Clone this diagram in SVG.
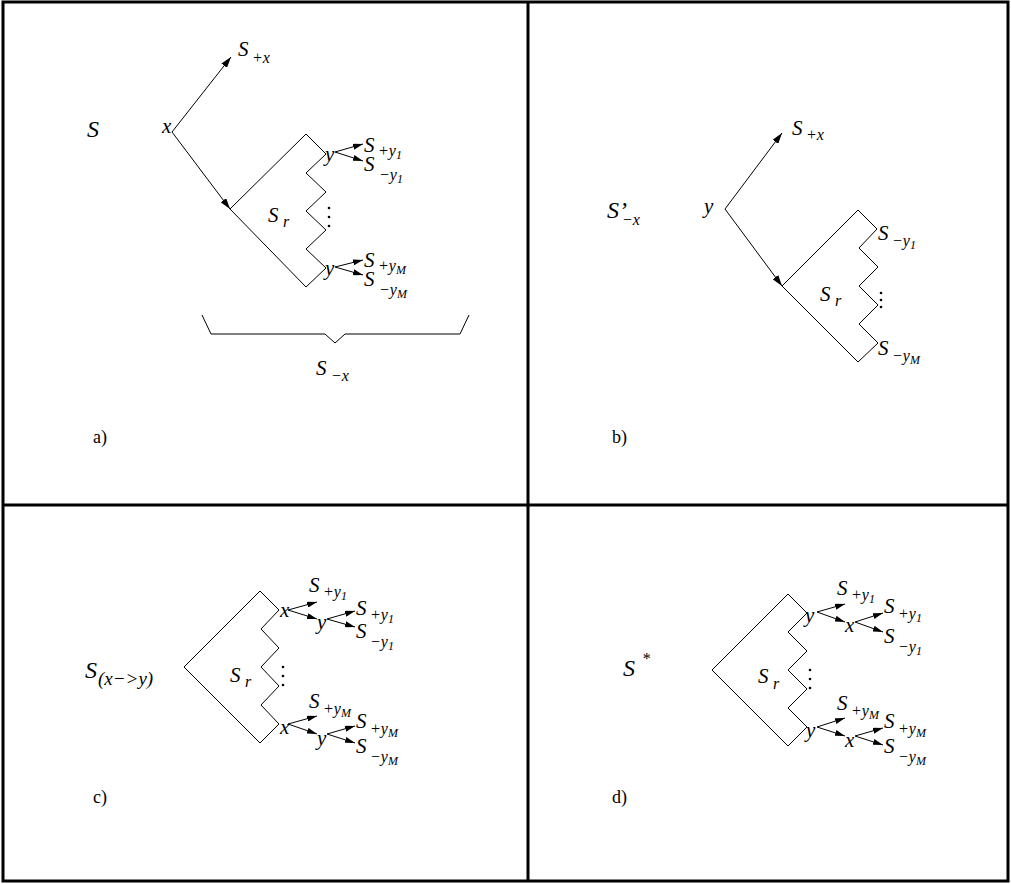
<svg xmlns="http://www.w3.org/2000/svg" width="1011" height="884" viewBox="0 0 1011 884" font-family="'Liberation Serif', 'Times New Roman', 'DejaVu Serif', serif">
<defs>
<marker id="ah" markerUnits="userSpaceOnUse" markerWidth="11" markerHeight="7" refX="11" refY="3.5" orient="auto"><path d="M0,0 L11,3.5 L0,7 z" fill="#000"/></marker>
<marker id="as" markerUnits="userSpaceOnUse" markerWidth="10" markerHeight="6" refX="10" refY="3" orient="auto"><path d="M0,0 L10,3 L0,6 z" fill="#000"/></marker>
</defs>
<style>
text{font-family:'Liberation Serif','Times New Roman','DejaVu Serif',serif;font-style:italic;fill:#000}
.m{font-size:21px}
.b{font-size:24px}
.u{font-size:16px}
.ss{font-size:12px}
.lab{font-style:normal;font-size:18px}
.ln{fill:none;stroke:#000;stroke-width:1}
.big{stroke:#000;stroke-width:1;fill:none;marker-end:url(#ah)}
.sm{stroke:#000;stroke-width:1;fill:none;marker-end:url(#as)}
.frame{fill:none;stroke:#000;stroke-width:3}
</style>
<rect class="frame" x="3" y="2" width="1005" height="879"/>
<line class="frame" x1="528" y1="2" x2="528" y2="881"/>
<line class="frame" x1="3" y1="505" x2="1008" y2="505"/>

<g id="connectors">
<line class="big" x1="172" y1="132" x2="231" y2="57"/>
<line class="big" x1="172" y1="132" x2="230" y2="209"/>
<line class="sm" x1="335" y1="152" x2="363" y2="144"/>
<line class="sm" x1="335" y1="152" x2="363" y2="161"/>
<line class="sm" x1="335" y1="267" x2="363" y2="260"/>
<line class="sm" x1="335" y1="267" x2="363" y2="275"/>
<line class="big" x1="725" y1="209" x2="782" y2="133"/>
<line class="big" x1="725" y1="209" x2="782" y2="286"/>
<line class="sm" x1="288" y1="610" x2="317" y2="602"/>
<line class="sm" x1="288" y1="610" x2="317" y2="619"/>
<line class="sm" x1="327" y1="619" x2="355" y2="611"/>
<line class="sm" x1="327" y1="619" x2="355" y2="627"/>
<line class="sm" x1="288" y1="724" x2="317" y2="716"/>
<line class="sm" x1="288" y1="724" x2="317" y2="734"/>
<line class="sm" x1="327" y1="734" x2="355" y2="726"/>
<line class="sm" x1="327" y1="734" x2="355" y2="743"/>
<line class="sm" x1="817" y1="612" x2="845" y2="604"/>
<line class="sm" x1="817" y1="612" x2="845" y2="622"/>
<line class="sm" x1="855" y1="622" x2="883" y2="613"/>
<line class="sm" x1="855" y1="622" x2="883" y2="632"/>
<line class="sm" x1="817" y1="727" x2="845" y2="718"/>
<line class="sm" x1="817" y1="727" x2="845" y2="736"/>
<line class="sm" x1="855" y1="736" x2="883" y2="728"/>
<line class="sm" x1="855" y1="736" x2="883" y2="745"/>
</g>

<g id="panel-a">
<text class="b" x="87" y="137">S</text>
<text class="m" x="238" y="56">S<tspan class="u" x="252" y="63">+x</tspan></text>
<text class="m" x="162" y="133">x</text>
<g id="sr-a">
<polyline class="ln" points="230,209 306,134 326,154 306,173 326,192 306,211 326,230 306,249 326,268 306,287 230,209"/>
<circle cx="329" cy="208" r="1.3"/><circle cx="329" cy="217" r="1.3"/><circle cx="329" cy="226" r="1.3"/>
<text class="m" x="268" y="222">S<tspan class="u" x="283" y="227">r</tspan></text>
</g>
<text class="m" x="325" y="161">y</text>
<text class="m" x="325" y="275">y</text>
<text class="m" x="364" y="152">S<tspan class="u" x="378" y="156">+y</tspan><tspan class="ss" dy="3">1</tspan></text>
<text class="m" x="364" y="171">S<tspan class="u" x="379" y="180">−y</tspan><tspan class="ss" dy="3">1</tspan></text>
<text class="m" x="364" y="267">S<tspan class="u" x="378" y="271">+y</tspan><tspan class="ss" dy="3">M</tspan></text>
<text class="m" x="364" y="286">S<tspan class="u" x="379" y="295">−y</tspan><tspan class="ss" dy="3">M</tspan></text>
<polyline class="ln" points="202,315 211,334 325,334 335,343 345,334 460,334 469,315"/>
<text class="m" x="316" y="375">S<tspan class="u" x="331" y="381">−x</tspan></text>
<text class="lab" x="93" y="443">a)</text>
</g>

<g id="panel-b">
<text class="b" x="607" y="218">S’<tspan class="u" x="622" y="225">−x</tspan></text>
<text class="m" x="792" y="135">S<tspan class="u" x="806" y="140">+x</tspan></text>
<text class="m" x="704" y="213">y</text>
<g id="sr-b">
<polyline class="ln" points="782,286 858,210 877,229 859,248 878,267 859,286 878,305 859,324 878,343 858,362 782,286"/>
<circle cx="881" cy="293" r="1.3"/><circle cx="881" cy="300" r="1.3"/><circle cx="881" cy="307" r="1.3"/>
<text class="m" x="820" y="301">S<tspan class="u" x="835" y="306">r</tspan></text>
</g>
<text class="m" x="878" y="240">S<tspan class="u" x="892" y="246">−y</tspan><tspan class="ss" dy="3">1</tspan></text>
<text class="m" x="878" y="355">S<tspan class="u" x="892" y="361">−y</tspan><tspan class="ss" dy="3">M</tspan></text>
<text class="lab" x="612" y="443">b)</text>
</g>

<g id="panel-c">
<text class="b" x="85" y="678">S<tspan class="u" style="font-size:19px" x="98" y="685">(x−&gt;y)</tspan></text>
<g id="sr-c">
<polyline class="ln" points="184,667 260,591 279,610 261,629 279,648 261,667 279,686 261,705 279,724 260,743 184,667"/>
<circle cx="283" cy="667" r="1.3"/><circle cx="283" cy="676" r="1.3"/><circle cx="283" cy="685" r="1.3"/>
<text class="m" x="230" y="682">S<tspan class="u" x="245" y="687">r</tspan></text>
</g>
<text class="m" x="280" y="617">x</text>
<text class="m" x="317" y="629">y</text>
<text class="m" x="280" y="734">x</text>
<text class="m" x="317" y="745">y</text>
<text class="m" x="309" y="592">S<tspan class="u" x="323" y="597">+y</tspan><tspan class="ss" dy="3">1</tspan></text>
<text class="m" x="356" y="615">S<tspan class="u" x="370" y="620">+y</tspan><tspan class="ss" dy="3">1</tspan></text>
<text class="m" x="356" y="638">S<tspan class="u" x="370" y="647">−y</tspan><tspan class="ss" dy="3">1</tspan></text>
<text class="m" x="309" y="708">S<tspan class="u" x="323" y="714">+y</tspan><tspan class="ss" dy="3">M</tspan></text>
<text class="m" x="356" y="728">S<tspan class="u" x="370" y="734">+y</tspan><tspan class="ss" dy="3">M</tspan></text>
<text class="m" x="356" y="753">S<tspan class="u" x="370" y="762">−y</tspan><tspan class="ss" dy="3">M</tspan></text>
<text class="lab" x="93" y="803">c)</text>
</g>

<g id="panel-d">
<text class="b" x="623" y="676">S<tspan class="u" x="642" y="664">*</tspan></text>
<g id="sr-d">
<polyline class="ln" points="712,670 788,594 807,613 788,632 807,651 788,670 807,689 788,708 807,727 788,746 712,670"/>
<circle cx="810" cy="670" r="1.3"/><circle cx="810" cy="679" r="1.3"/><circle cx="810" cy="688" r="1.3"/>
<text class="m" x="758" y="683">S<tspan class="u" x="773" y="689">r</tspan></text>
</g>
<text class="m" x="805" y="622">y</text>
<text class="m" x="845" y="632">x</text>
<text class="m" x="806" y="737">y</text>
<text class="m" x="845" y="747">x</text>
<text class="m" x="837" y="595">S<tspan class="u" x="851" y="600">+y</tspan><tspan class="ss" dy="3">1</tspan></text>
<text class="m" x="884" y="613">S<tspan class="u" x="898" y="619">+y</tspan><tspan class="ss" dy="3">1</tspan></text>
<text class="m" x="884" y="643">S<tspan class="u" x="898" y="652">−y</tspan><tspan class="ss" dy="3">1</tspan></text>
<text class="m" x="837" y="710">S<tspan class="u" x="851" y="716">+y</tspan><tspan class="ss" dy="3">M</tspan></text>
<text class="m" x="884" y="728">S<tspan class="u" x="898" y="734">+y</tspan><tspan class="ss" dy="3">M</tspan></text>
<text class="m" x="884" y="753">S<tspan class="u" x="898" y="762">−y</tspan><tspan class="ss" dy="3">M</tspan></text>
<text class="lab" x="612" y="803">d)</text>
</g>
</svg>
